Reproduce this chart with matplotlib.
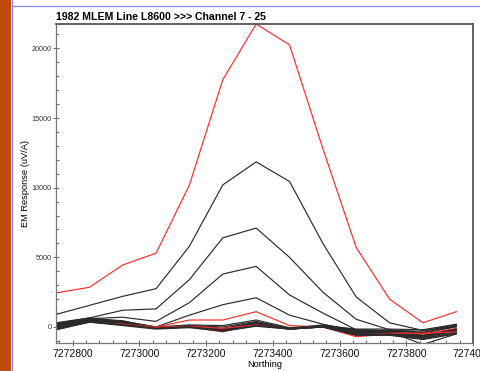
import numpy as np
import matplotlib
matplotlib.use("Agg")
import matplotlib.pyplot as plt
from matplotlib.ticker import MultipleLocator, FuncFormatter
from matplotlib.patches import Rectangle
from matplotlib.lines import Line2D

# ---- data ----
northing = [7272750 + 100 * i for i in range(13)]

channels = list(range(7, 26))
red_channels = [7, 12, 17, 22]

ch7 = [2440, 2850, 4450, 5300, 10200, 17750, 21750, 20250, 12800, 5700, 2000, 300, 1100]
ch8 = [900, 1550, 2200, 2750, 5800, 10200, 11850, 10450, 6000, 2150, 300, -250, 100]
ch9 = [250, 650, 1200, 1300, 3400, 6400, 7100, 5000, 2500, 550, -200, -400, 0]
ch10 = [100, 600, 700, 400, 1750, 3800, 4350, 2300, 1000, -200, -300, -600, -200]
ch11 = [50, 550, 400, 0, 850, 1600, 2100, 850, 200, -300, -350, -1250, -500]
ch12 = [-100, 500, 300, 0, 500, 500, 1100, 100, 0, -700, -500, -700, -300]
ch13 = [300, 650, 400, 0, 150, 100, 500, -50, 100, -150, -150, -200, 200]
ch14 = [250, 600, 450, -50, 100, 0, 400, -100, 150, -200, -250, -300, 150]
ch15 = [200, 550, 350, -50, 100, -100, 350, -100, 50, -250, -300, -400, 100]
ch16 = [150, 500, 300, -100, 50, -150, 300, -150, 50, -300, -250, -450, 50]
ch17 = [-150, 400, 250, 0, 0, -350, 200, -100, 50, -550, -550, -500, -100]
ch18 = [100, 500, 300, -50, 50, -200, 300, -150, 0, -350, -350, -600, -150]
ch19 = [50, 450, 250, -100, 50, -150, 250, -100, 0, -400, -400, -650, -200]
ch20 = [0, 450, 200, -100, 0, -200, 200, -150, 50, -450, -450, -700, -250]
ch21 = [-50, 400, 200, -100, 0, -250, 200, -100, 0, -500, -500, -750, -300]
ch22 = [-200, 350, 200, -50, 50, -100, 150, -150, 0, -600, -450, -450, -350]
ch23 = [-100, 400, 150, -100, 0, -250, 100, -100, 50, -550, -500, -800, -400]
ch24 = [-150, 350, 150, -100, 0, -300, 100, -150, 0, -550, -550, -850, -450]
ch25 = [-200, 350, 100, -150, -50, -300, 50, -150, 0, -600, -600, -900, -500]

series = [ch7, ch8, ch9, ch10, ch11, ch12, ch13, ch14, ch15, ch16,
          ch17, ch18, ch19, ch20, ch21, ch22, ch23, ch24, ch25]

# ---- figure ----
plt.rcParams['font.family'] = ['Liberation Sans', 'DejaVu Sans']
fig = plt.figure(figsize=(4.81, 3.71), dpi=100, facecolor="white")

# slide decoration: brown bar and blue rules
W, H = 481, 371
fig.patches.append(Rectangle((0, 0), 11 / W, 1, transform=fig.transFigure,
                             facecolor="#c24a0e", edgecolor="none", zorder=0))
fig.lines.append(Line2D([11.5 / W, 11.5 / W], [0, 1], transform=fig.transFigure,
                        color="#8a8aff", lw=0.9))
fig.lines.append(Line2D([11.5 / W, 1], [1 - 6 / H, 1 - 6 / H], transform=fig.transFigure,
                        color="#8a8aff", lw=0.9))

ax = fig.add_axes([56 / W, 1 - 343 / H, (473 - 56) / W, (343 - 24) / H])

for ch, vals in zip(channels, series):
    col = "#ff2b2b" if ch in red_channels else "#2a2a2a"
    ax.plot(northing, vals, color=col, linewidth=0.85)

ax.set_xlim(7272750, 7274000)
ax.set_ylim(-1150, 21750)

ax.xaxis.set_major_locator(MultipleLocator(200))
ax.xaxis.set_minor_locator(MultipleLocator(40))
ax.yaxis.set_major_locator(MultipleLocator(5000))
ax.yaxis.set_minor_locator(MultipleLocator(1000))
ax.xaxis.set_major_formatter(FuncFormatter(lambda v, p: f"{v:.0f}"))
ax.yaxis.set_major_formatter(FuncFormatter(lambda v, p: f"{v:.0f}"))

ax.tick_params(axis="both", which="major", direction="inout", length=4,
               width=0.7, color="#666666")
ax.tick_params(axis="both", which="minor", direction="in", length=2.5,
               width=0.7, color="#666666")
ax.tick_params(axis="x", which="major", labelsize=7.5, pad=2, labelcolor="#111111")
ax.tick_params(axis="y", which="major", labelsize=5.2, pad=1, labelcolor="#333333")

for side in ["left", "bottom"]:
    ax.spines[side].set_color("#777777")
    ax.spines[side].set_linewidth(0.9)
for side in ["top", "right"]:
    ax.spines[side].set_color("#555555")
    ax.spines[side].set_linewidth(1.3)

ax.set_xlabel("Northing", fontsize=6.7, labelpad=1)
ax.set_ylabel("EM Response (uV/A)", fontsize=6.7, labelpad=1)
ax.set_title("1982 MLEM Line L8600 >>> Channel 7 - 25", fontsize=7.6,
             fontweight="bold", loc="left", pad=3)

fig.savefig("out.png", dpi=100, facecolor="white")
